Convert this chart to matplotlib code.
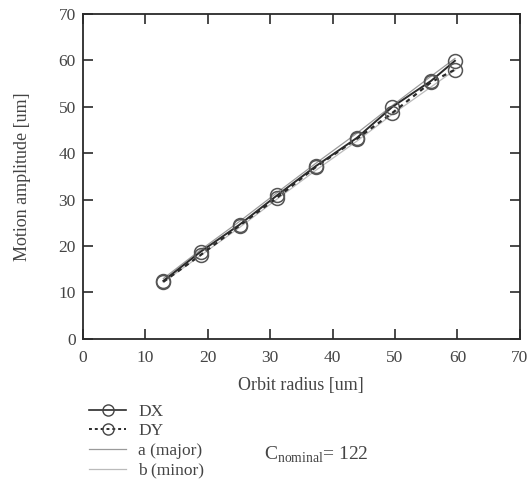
import matplotlib
matplotlib.use("Agg")
import matplotlib.pyplot as plt
from matplotlib.lines import Line2D

plt.rcParams['font.family'] = ['Liberation Serif', 'DejaVu Serif']

# Orbit radius [um] and motion amplitudes [um]
radius = [12.9, 18.9, 25.1, 31.1, 37.3, 43.9, 49.6, 55.8, 59.6]
dx = [12.5, 18.8, 24.6, 30.9, 37.2, 43.3, 50.0, 55.6, 59.9]
dy = [12.3, 18.1, 24.4, 30.4, 37.0, 43.1, 48.7, 55.3, 58.0]
fit_major = [13.0, 19.2, 25.3, 31.5, 37.8, 44.3, 50.3, 56.6, 60.4]
fit_minor = [12.2, 18.0, 24.0, 30.1, 36.3, 42.6, 48.4, 54.3, 57.9]

xticks = [0, 10, 20, 30, 40, 50, 60, 70]
yticks = [0, 10, 20, 30, 40, 50, 60, 70]
c_nominal = 122

ink = '#2a2a2a'
txt = '#444444'

fig = plt.figure(figsize=(5.31, 4.8), dpi=100)
ax = fig.add_axes([0.156, 0.294, 0.823, 0.677])

ax.plot(radius, fit_major, color='#9a9a9a', lw=0.9, zorder=2)
ax.plot(radius, fit_minor, color='#bbbbbb', lw=0.9, zorder=2)
ax.plot(radius, dx, color=ink, lw=1.4, marker='o', ms=10, mfc='none',
        mec='#555555', mew=1.1, zorder=3)
ax.plot(radius, dy, color=ink, lw=1.6, ls=(0, (2, 2)), marker='o', ms=10,
        mfc='none', mec='#555555', mew=1.1, zorder=3)

ax.set_xlim(0, 70)
ax.set_ylim(0, 70)
ax.set_xticks(xticks)
ax.set_yticks(yticks)
ax.tick_params(direction='in', length=7, width=1.2, top=True, right=True,
               labelsize=12.5, labelcolor=txt, color=ink, pad=5)
ax.tick_params(axis='x', pad=8)
for s in ax.spines.values():
    s.set_linewidth(1.3)
    s.set_color(ink)

ax.set_xlabel('Orbit radius [um]', fontsize=13, color=txt, labelpad=8)
ax.set_ylabel('Motion amplitude [um]', fontsize=13, color=txt, labelpad=20)

handles = [
    Line2D([], [], color=ink, lw=1.2, marker='o', ms=8, mfc='none', mec='#444444'),
    Line2D([], [], color=ink, lw=1.4, ls=(0, (1.5, 1.5)), marker='o', ms=8,
           mfc='none', mec='#444444'),
    Line2D([], [], color='#9a9a9a', lw=0.9),
    Line2D([], [], color='#bbbbbb', lw=0.9),
]
labels = ['DX', 'DY', 'a (major)', 'b (minor)']
fig.legend(handles, labels, loc='upper left', bbox_to_anchor=(0.152, 0.177),
           frameon=False, fontsize=12.5, labelcolor=txt, handlelength=2.1,
           handletextpad=0.7, labelspacing=0.2, borderpad=0)

fig.text(0.497, 0.042, r'C$_{\mathregular{nominal}}$= ' + str(c_nominal),
         fontsize=14, color=txt)

fig.savefig('out.png', dpi=100, facecolor='white')
